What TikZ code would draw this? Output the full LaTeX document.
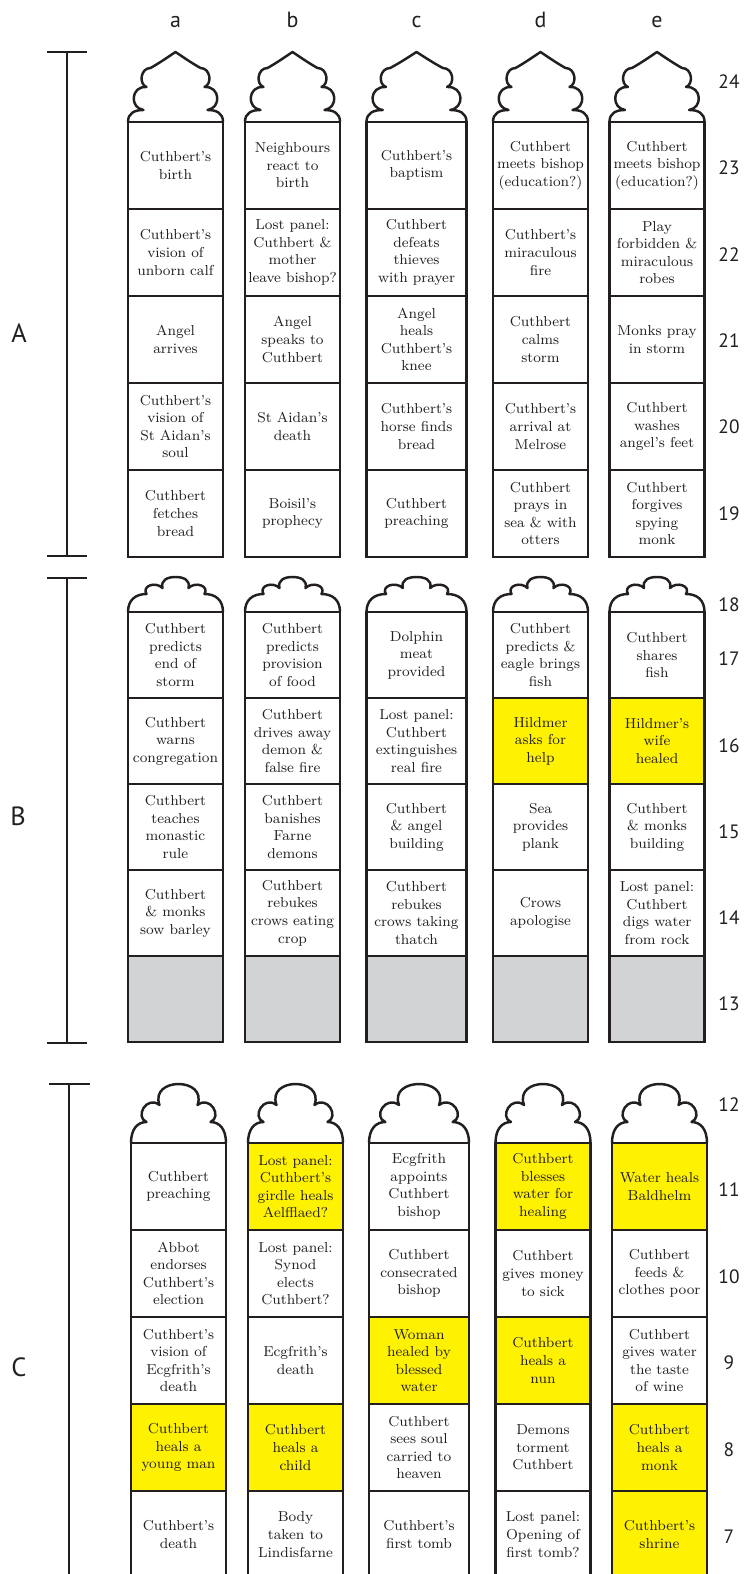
\documentclass[tikz,border=0pt]{standalone}
\usepackage{fontspec}
\newfontfamily\labelsans{PT Sans}
\definecolor{stallInk}{HTML}{231F20}
\definecolor{stallYellow}{HTML}{FFF200}
\definecolor{stallGray}{HTML}{D1D3D4}
\tikzset{
  every picture/.style={text=stallInk},
  stall panel/.style={draw=stallInk, line width=1.5pt, fill=white, align=center,
    minimum width=1.9cm, minimum height=1.74cm, inner sep=0pt,
    font=\fontsize{8.2}{10}\selectfont},
  stall wide/.style={minimum width=2cm},
  stall low/.style={minimum height=1.72cm},
  stall healing/.style={fill=stallYellow},
  stall missing/.style={fill=stallGray},
  stall arch/.style={draw=stallInk, line width=1.4pt, line join=round},
  stall bar/.style={draw=stallInk, line width=1.2pt},
  col label/.style={font=\labelsans\fontsize{12.5}{14}\selectfont, anchor=base},
  row label/.style={font=\labelsans\fontsize{11}{13}\selectfont},
  part label/.style={font=\labelsans\fontsize{15}{17}\selectfont},
  pointed arch/.pic={
    \draw[stall arch] (-47.5,0) .. controls (-47.5,9) and (-41,12) .. (-32,12)
      .. controls (-46,14) and (-45,36) .. (-29,35)
      .. controls (-37,38) and (-35,54) .. (-25,54)
      .. controls (-16,59) and (-6,66) .. (0,70)
      .. controls (6,66) and (16,59) .. (25,54)
      .. controls (35,54) and (37,38) .. (29,35)
      .. controls (45,36) and (46,14) .. (32,12)
      .. controls (41,12) and (47.5,9) .. (47.5,0);
  },
  low arch/.pic={
    \draw[stall arch] (-47.5,0) .. controls (-47.5,12) and (-40,18) .. (-29,18)
      .. controls (-34,26) and (-20,31) .. (-13,24)
      .. controls (-15,32) and (-8,35) .. (0,35)
      .. controls (8,35) and (15,32) .. (13,24)
      .. controls (20,31) and (34,26) .. (29,18)
      .. controls (40,18) and (47.5,12) .. (47.5,0);
  },
  lobed arch/.pic={
    \draw[stall arch] (-47.5,0) .. controls (-47.5,14) and (-41,21) .. (-32,21)
      .. controls (-44,26) and (-32,48) .. (-19,38)
      .. controls (-24,52) and (-12,59) .. (0,59)
      .. controls (12,59) and (24,52) .. (19,38)
      .. controls (32,48) and (44,26) .. (32,21)
      .. controls (41,21) and (47.5,14) .. (47.5,0);
  }
}
\begin{document}
\begin{tikzpicture}[x=0.02cm,y=0.02cm]
  \useasboundingbox (0,0) rectangle (745,-1574);
  \clip (0,0) rectangle (745,-1574);

  % column letters and row numbers
  \foreach \c/\x in {a/175.5,b/292.5,c/416.5,d/540.5,e/657}
    \node[col label] (col\c) at (\x,-28) {\c};
  \foreach \n/\y in {24/82,23/168,22/255,21/341,20/427,19/514,
                     18/605,17/659,16/746,15/832,14/918,13/1004,
                     12/1105,11/1190,10/1277,9/1363,8/1450,7/1537}
    \node[row label] (row\n) at (729,-\y) {\n};

  % section brackets
  \node[part label] (partA) at (19,-333) {A};
  \node[part label] (partB) at (18,-816) {B};
  \node[part label] (partC) at (19,-1367) {C};
  \draw[stall bar] (47,-52) -- (87,-52) (67,-52) -- (67,-556) (47,-556) -- (87,-556);
  \draw[stall bar] (47,-578) -- (87,-578) (67,-578) -- (67,-1043) (47,-1043) -- (87,-1043);
  \draw[stall bar] (49,-1084) -- (90,-1084) (69,-1084) -- (69,-1600);

  % A: rows 23 to 19
  \node[stall panel] (a23) at (175.5,-165.5) {Cuthbert's\\birth};
  \node[stall panel] (b23) at (292.5,-165.5) {Neighbours\\react to\\birth};
  \node[stall panel,stall wide] (c23) at (416.5,-165.5) {Cuthbert's\\baptism};
  \node[stall panel] (d23) at (540.5,-165.5) {Cuthbert\\meets bishop\\(education?)};
  \node[stall panel] (e23) at (657,-165.5) {Cuthbert\\meets bishop\\(education?)};

  \node[stall panel] (a22) at (175.5,-252.5) {Cuthbert's\\vision of\\unborn calf};
  \node[stall panel] (b22) at (292.5,-252.5) {Lost panel:\\Cuthbert \&\\mother\\leave bishop?};
  \node[stall panel,stall wide] (c22) at (416.5,-252.5) {Cuthbert\\defeats\\thieves\\with prayer};
  \node[stall panel] (d22) at (540.5,-252.5) {Cuthbert's\\miraculous\\fire};
  \node[stall panel] (e22) at (657,-252.5) {Play\\forbidden \&\\miraculous\\robes};

  \node[stall panel] (a21) at (175.5,-339.5) {Angel\\arrives};
  \node[stall panel] (b21) at (292.5,-339.5) {Angel\\speaks to\\Cuthbert};
  \node[stall panel,stall wide] (c21) at (416.5,-339.5) {Angel\\heals\\Cuthbert's\\knee};
  \node[stall panel] (d21) at (540.5,-339.5) {Cuthbert\\calms\\storm};
  \node[stall panel] (e21) at (657,-339.5) {Monks pray\\in storm};

  \node[stall panel] (a20) at (175.5,-426.5) {Cuthbert's\\vision of\\St Aidan's\\soul};
  \node[stall panel] (b20) at (292.5,-426.5) {St Aidan's\\death};
  \node[stall panel,stall wide] (c20) at (416.5,-426.5) {Cuthbert's\\horse finds\\bread};
  \node[stall panel] (d20) at (540.5,-426.5) {Cuthbert's\\arrival at\\Melrose};
  \node[stall panel] (e20) at (657,-426.5) {Cuthbert\\washes\\angel's feet};

  \node[stall panel] (a19) at (175.5,-513.5) {Cuthbert\\fetches\\bread};
  \node[stall panel] (b19) at (292.5,-513.5) {Boisil's\\prophecy};
  \node[stall panel,stall wide] (c19) at (416.5,-513.5) {Cuthbert\\preaching};
  \node[stall panel] (d19) at (540.5,-513.5) {Cuthbert\\prays in\\sea \& with\\otters};
  \node[stall panel] (e19) at (657,-513.5) {Cuthbert\\forgives\\spying\\monk};

  \foreach \cx/\sx in {175.5/1,292.5/1,416.5/1.0526,540.5/1,657/1}
    \pic[xscale=\sx] at (\cx,-122) {pointed arch};

  % B: rows 17 to 13
  \node[stall panel,stall low] (a17) at (175.5,-655) {Cuthbert\\predicts\\end of\\storm};
  \node[stall panel,stall low] (b17) at (292.5,-655) {Cuthbert\\predicts\\provision\\of food};
  \node[stall panel,stall low,stall wide] (c17) at (416.5,-655) {Dolphin\\meat\\provided};
  \node[stall panel,stall low] (d17) at (540.5,-655) {Cuthbert\\predicts \&\\eagle brings\\fish};
  \node[stall panel,stall low] (e17) at (657,-655) {Cuthbert\\shares\\fish};

  \node[stall panel,stall low] (a16) at (175.5,-741) {Cuthbert\\warns\\congregation};
  \node[stall panel,stall low] (b16) at (292.5,-741) {Cuthbert\\drives away\\demon \&\\false fire};
  \node[stall panel,stall low,stall wide] (c16) at (416.5,-741) {Lost panel:\\Cuthbert\\extinguishes\\real fire};
  \node[stall panel,stall low,stall healing] (d16) at (540.5,-741) {Hildmer\\asks for\\help};
  \node[stall panel,stall low,stall healing] (e16) at (657,-741) {Hildmer's\\wife\\healed};

  \node[stall panel,stall low] (a15) at (175.5,-827) {Cuthbert\\teaches\\monastic\\rule};
  \node[stall panel,stall low] (b15) at (292.5,-827) {Cuthbert\\banishes\\Farne\\demons};
  \node[stall panel,stall low,stall wide] (c15) at (416.5,-827) {Cuthbert\\\& angel\\building};
  \node[stall panel,stall low] (d15) at (540.5,-827) {Sea\\provides\\plank};
  \node[stall panel,stall low] (e15) at (657,-827) {Cuthbert\\\& monks\\building};

  \node[stall panel,stall low] (a14) at (175.5,-913) {Cuthbert\\\& monks\\sow barley};
  \node[stall panel,stall low] (b14) at (292.5,-913) {Cuthbert\\rebukes\\crows eating\\crop};
  \node[stall panel,stall low,stall wide] (c14) at (416.5,-913) {Cuthbert\\rebukes\\crows taking\\thatch};
  \node[stall panel,stall low] (d14) at (540.5,-913) {Crows\\apologise};
  \node[stall panel,stall low] (e14) at (657,-913) {Lost panel:\\Cuthbert\\digs water\\from rock};

  \node[stall panel,stall low,stall missing] (a13) at (175.5,-999) {};
  \node[stall panel,stall low,stall missing] (b13) at (292.5,-999) {};
  \node[stall panel,stall low,stall missing,stall wide] (c13) at (416.5,-999) {};
  \node[stall panel,stall low,stall missing] (d13) at (540.5,-999) {};
  \node[stall panel,stall low,stall missing] (e13) at (657,-999) {};

  \foreach \cx/\sx in {175.5/1,292.5/1,416.5/1.0526,540.5/1,657/1}
    \pic[xscale=\sx] at (\cx,-612) {low arch};

  % C: rows 11 to 7
  \node[stall panel] (a11) at (178.5,-1186.5) {Cuthbert\\preaching};
  \node[stall panel,stall healing] (b11) at (295.5,-1186.5) {Lost panel:\\Cuthbert's\\girdle heals\\Aelfflaed?};
  \node[stall panel,stall wide] (c11) at (419,-1186.5) {Ecgfrith\\appoints\\Cuthbert\\bishop};
  \node[stall panel,stall healing] (d11) at (543,-1186.5) {Cuthbert\\blesses\\water for\\healing};
  \node[stall panel,stall healing] (e11) at (659.5,-1186.5) {Water heals\\Baldhelm};

  \node[stall panel] (a10) at (178.5,-1273.5) {Abbot\\endorses\\Cuthbert's\\election};
  \node[stall panel] (b10) at (295.5,-1273.5) {Lost panel:\\Synod\\elects\\Cuthbert?};
  \node[stall panel,stall wide] (c10) at (419,-1273.5) {Cuthbert\\consecrated\\bishop};
  \node[stall panel] (d10) at (543,-1273.5) {Cuthbert\\gives money\\to sick};
  \node[stall panel] (e10) at (659.5,-1273.5) {Cuthbert\\feeds \&\\clothes poor};

  \node[stall panel] (a9) at (178.5,-1360.5) {Cuthbert's\\vision of\\Ecgfrith's\\death};
  \node[stall panel] (b9) at (295.5,-1360.5) {Ecgfrith's\\death};
  \node[stall panel,stall wide,stall healing] (c9) at (419,-1360.5) {Woman\\healed by\\blessed\\water};
  \node[stall panel,stall healing] (d9) at (543,-1360.5) {Cuthbert\\heals a\\nun};
  \node[stall panel] (e9) at (659.5,-1360.5) {Cuthbert\\gives water\\the taste\\of wine};

  \node[stall panel,stall healing] (a8) at (178.5,-1447.5) {Cuthbert\\heals a\\young man};
  \node[stall panel,stall healing] (b8) at (295.5,-1447.5) {Cuthbert\\heals a\\child};
  \node[stall panel,stall wide] (c8) at (419,-1447.5) {Cuthbert\\sees soul\\carried to\\heaven};
  \node[stall panel] (d8) at (543,-1447.5) {Demons\\torment\\Cuthbert};
  \node[stall panel,stall healing] (e8) at (659.5,-1447.5) {Cuthbert\\heals a\\monk};

  \node[stall panel] (a7) at (178.5,-1534.5) {Cuthbert's\\death};
  \node[stall panel] (b7) at (295.5,-1534.5) {Body\\taken to\\Lindisfarne};
  \node[stall panel,stall wide] (c7) at (419,-1534.5) {Cuthbert's\\first tomb};
  \node[stall panel] (d7) at (543,-1534.5) {Lost panel:\\Opening of\\first tomb?};
  \node[stall panel,stall healing] (e7) at (659.5,-1534.5) {Cuthbert's\\shrine};

  \foreach \cx/\sx in {178.5/1,295.5/1,419/1.0526,543/1,659.5/1}
    \pic[xscale=\sx] at (\cx,-1143) {lobed arch};
\end{tikzpicture}
\end{document}
